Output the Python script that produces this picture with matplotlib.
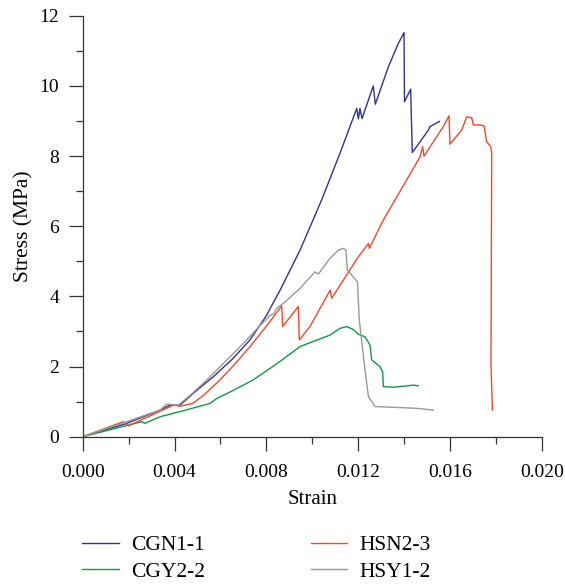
import matplotlib
matplotlib.use('Agg')
import matplotlib.pyplot as plt
from matplotlib.ticker import MultipleLocator

plt.rcParams['font.family'] = ['Liberation Serif', 'DejaVu Serif']

# strain / stress
cgn_x = [0.0, 0.00192, 0.00337, 0.0038, 0.00424, 0.00482, 0.00569, 0.0065, 0.00729,
         0.008, 0.0086, 0.00947, 0.01041, 0.01122, 0.01194, 0.01201,
         0.01208, 0.01217, 0.01266, 0.01275, 0.01332, 0.01375, 0.0140, 0.01402,
         0.01429, 0.01436, 0.01506, 0.01513, 0.01554]
cgn_y = [0.0, 0.38, 0.76, 0.90, 0.90, 1.24, 1.71, 2.2, 2.76,
         3.45, 4.18, 5.32, 6.75, 8.10, 9.36, 9.06,
         9.36, 9.07, 10.0, 9.48, 10.55, 11.21, 11.52, 9.55,
         9.91, 8.10, 8.74, 8.84, 8.99]

cgy_x = [0.0, 0.00257, 0.00271, 0.00337, 0.00438, 0.00555, 0.00584, 0.0065, 0.00743,
         0.0085, 0.00947, 0.01078, 0.01121, 0.0115, 0.01179, 0.01201,
         0.0123, 0.01252, 0.01259, 0.01295, 0.01307, 0.0131, 0.01353, 0.01441, 0.01462]
cgy_y = [0.0, 0.43, 0.38, 0.57, 0.74, 0.95, 1.09, 1.30, 1.62,
         2.10, 2.57, 2.90, 3.09, 3.14, 3.06, 2.92,
         2.85, 2.61, 2.19, 2.0, 1.85, 1.43, 1.41, 1.47, 1.45]

hsn_x = [0.0, 0.00177, 0.00199, 0.00395, 0.00424, 0.0048, 0.0053, 0.00598, 0.0066,
         0.00729, 0.008, 0.00867, 0.00871, 0.00939, 0.00944, 0.0099, 0.01078, 0.01085,
         0.01201, 0.01245, 0.01249, 0.0131, 0.0147, 0.01481, 0.01487, 0.01571, 0.01596,
         0.016, 0.01651, 0.01673, 0.01695, 0.01702, 0.01728, 0.01749, 0.0176, 0.01778,
         0.01782, 0.01779, 0.01785]
hsn_y = [0.0, 0.43, 0.31, 0.90, 0.87, 0.95, 1.2, 1.62, 2.05,
         2.57, 3.15, 3.73, 3.14, 3.71, 2.76, 3.14, 4.18, 3.95,
         5.13, 5.51, 5.37, 6.18, 7.98, 8.27, 8.0, 8.84, 9.15,
         8.34, 8.74, 9.12, 9.09, 8.89, 8.89, 8.86, 8.41, 8.27,
         8.08, 2.1, 0.76]

hsy_x = [0.0, 0.00192, 0.00337, 0.00366, 0.00417, 0.0048, 0.00555, 0.0063, 0.007,
         0.0077, 0.00818, 0.0083, 0.00845, 0.00874, 0.00947, 0.01012, 0.01027,
         0.01078, 0.01114, 0.01136, 0.01147, 0.01153, 0.01197, 0.01205, 0.0123,
         0.01245, 0.01274, 0.01455, 0.01528]
hsy_y = [0.0, 0.43, 0.76, 0.93, 0.90, 1.25, 1.71, 2.2, 2.66,
         3.15, 3.47, 3.49, 3.66, 3.80, 4.23, 4.70, 4.64,
         5.09, 5.32, 5.37, 5.32, 4.75, 4.42, 3.33, 1.90,
         1.14, 0.86, 0.81, 0.76]

fig = plt.figure(figsize=(5.65, 5.84), dpi=100)
ax = fig.add_axes([0.1464, 0.2522, 0.8124, 0.7207])

l1, = ax.plot(cgn_x, cgn_y, color='#33338f', lw=1.0, label='CGN1-1')
l2, = ax.plot(cgy_x, cgy_y, color='#0e9a45', lw=1.0, label='CGY2-2')
l3, = ax.plot(hsn_x, hsn_y, color='#f0492b', lw=1.0, label='HSN2-3')
l4, = ax.plot(hsy_x, hsy_y, color='#999999', lw=1.0, label='HSY1-2')

ax.set_xlim(0, 0.020)
ax.set_ylim(0, 12)
ax.xaxis.set_major_locator(MultipleLocator(0.004))
ax.xaxis.set_minor_locator(MultipleLocator(0.002))
ax.yaxis.set_major_locator(MultipleLocator(2))
ax.yaxis.set_minor_locator(MultipleLocator(1))
ax.xaxis.set_major_formatter(plt.FormatStrFormatter('%.3f'))
ax.spines['top'].set_visible(False)
ax.spines['right'].set_visible(False)
for s in ('left', 'bottom'):
    ax.spines[s].set_color('#333333')
    ax.spines[s].set_linewidth(0.9)
ax.tick_params(which='major', direction='out', length=10, width=0.9, color='#333333',
               labelsize=14, pad=7)
ax.tick_params(axis='x', which='major', pad=10)
ax.tick_params(which='minor', direction='out', length=5, width=0.9, color='#333333')
ax.set_xlabel('Strain', fontsize=15, labelpad=6)
ax.set_ylabel('Stress (MPa)', fontsize=15.5, labelpad=4)

fig.legend(handles=[l1, l2, l3, l4], ncol=2, loc='upper left',
           bbox_to_anchor=(0.1305, 0.098), frameon=False, fontsize=15.5,
           handlelength=1.68, handletextpad=0.58, columnspacing=4.93,
           labelspacing=0.3, borderaxespad=0)

fig.savefig('out.png', dpi=100)
